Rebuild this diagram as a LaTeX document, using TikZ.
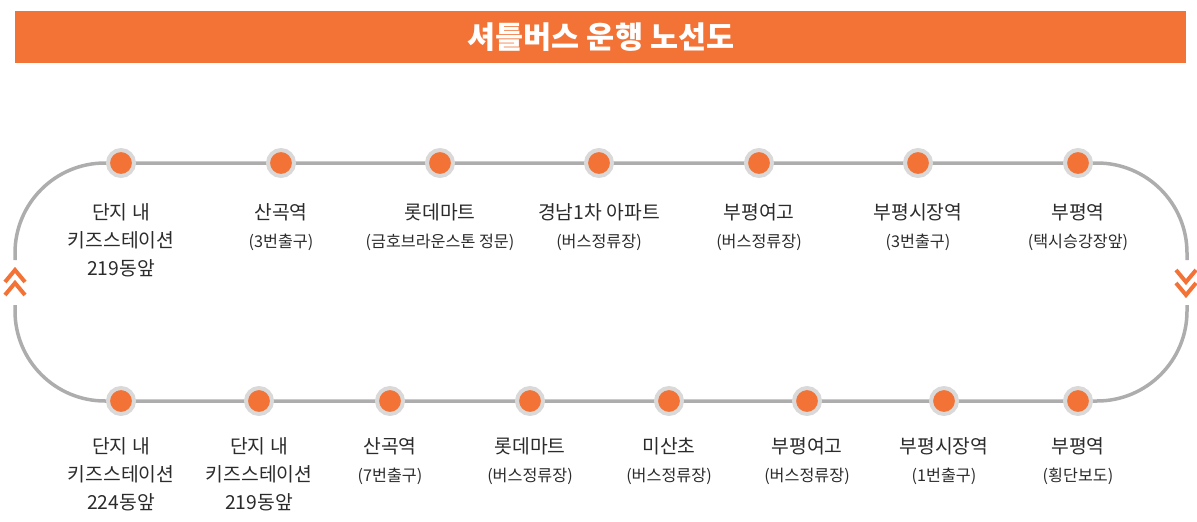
\documentclass[tikz,border=0pt]{standalone}
\usepackage{fontspec}
\setmainfont{Noto Sans CJK KR}
\definecolor{orng}{HTML}{F37336}
\definecolor{ringgray}{HTML}{D9D9D9}
\definecolor{routegray}{HTML}{ADADAD}
\definecolor{txt}{HTML}{2B2B2B}
\newcommand\sublbl[1]{{\fontsize{16.2}{28}\selectfont #1}}
\begin{document}
\begin{tikzpicture}[x=1pt,y=1pt,
  route/.style={draw=routegray,line width=3.5pt},
  chev/.style={draw=orng,line width=4pt},
  stopdot/.style={circle,fill=orng,draw=ringgray,line width=4pt,minimum size=26pt,inner sep=0pt},
  lbl/.style={anchor=north,align=center,inner sep=0pt,text=txt,font=\fontsize{19.3}{28}\selectfont},
  header/.style={fill=orng,draw=none},
  title/.style={text=white,font=\fontsize{30.5}{32}\selectfont\bfseries}
]
\useasboundingbox (0,0) rectangle (1197,-522);
% header
\fill[header] (15,-11) rectangle (1186,-63);
\node[title] (ttl) at (601,-37) {셔틀버스 운행 노선도};
% stop coordinates
\foreach \i/\x in {1/121,2/281,3/440,4/599,5/759,6/918,7/1078}
  \coordinate (t\i) at (\x,-163);
\foreach \i/\x in {1/121,2/259,3/390,4/530,5/669,6/807,7/944,8/1078}
  \coordinate (b\i) at (\x,-401);
\coordinate (rt) at (1097,-163);
\coordinate (rb) at (1097,-401);
\coordinate (lt) at (105,-163);
\coordinate (lb) at (105,-401);
% route
\draw[route] (lt) -- (t7) -- (rt) arc(90:0:90) -- ++(0,-7);
\draw[route] (1187,-305) -- (1187,-311) arc(0:-90:90) -- (b8) -- (b1) -- (lb) arc(270:180:90) -- ++(0,6);
\draw[route] (15,-260) -- (15,-253) arc(180:90:90) -- (lt);
% chevrons
\draw[chev] (5,-282) -- (15,-270) -- (25,-282);
\draw[chev] (5,-295) -- (15,-283) -- (25,-295);
\draw[chev] (1176,-270) -- (1186,-282) -- (1196,-270);
\draw[chev] (1176,-283) -- (1186,-295) -- (1196,-283);
% stops
\foreach \i in {1,...,7} \node[stopdot] (dt\i) at (t\i) {};
\foreach \i in {1,...,8} \node[stopdot] (db\i) at (b\i) {};
% top labels
\node[lbl] (lt1) at (121,-203) {단지 내\\키즈스테이션\\219동앞};
\node[lbl] (lt2) at (281,-203) {산곡역\\\sublbl{(3번출구)}};
\node[lbl] (lt3) at (440,-203) {롯데마트\\\sublbl{(금호브라운스톤 정문)}};
\node[lbl] (lt4) at (599,-203) {경남1차 아파트\\\sublbl{(버스정류장)}};
\node[lbl] (lt5) at (759,-203) {부평여고\\\sublbl{(버스정류장)}};
\node[lbl] (lt6) at (918,-203) {부평시장역\\\sublbl{(3번출구)}};
\node[lbl] (lt7) at (1078,-203) {부평역\\\sublbl{(택시승강장앞)}};
% bottom labels
\node[lbl] (lb1) at (121,-437) {단지 내\\키즈스테이션\\224동앞};
\node[lbl] (lb2) at (259,-437) {단지 내\\키즈스테이션\\219동앞};
\node[lbl] (lb3) at (390,-437) {산곡역\\\sublbl{(7번출구)}};
\node[lbl] (lb4) at (530,-437) {롯데마트\\\sublbl{(버스정류장)}};
\node[lbl] (lb5) at (669,-437) {미산초\\\sublbl{(버스정류장)}};
\node[lbl] (lb6) at (807,-437) {부평여고\\\sublbl{(버스정류장)}};
\node[lbl] (lb7) at (944,-437) {부평시장역\\\sublbl{(1번출구)}};
\node[lbl] (lb8) at (1078,-437) {부평역\\\sublbl{(횡단보도)}};
\end{tikzpicture}
\end{document}
